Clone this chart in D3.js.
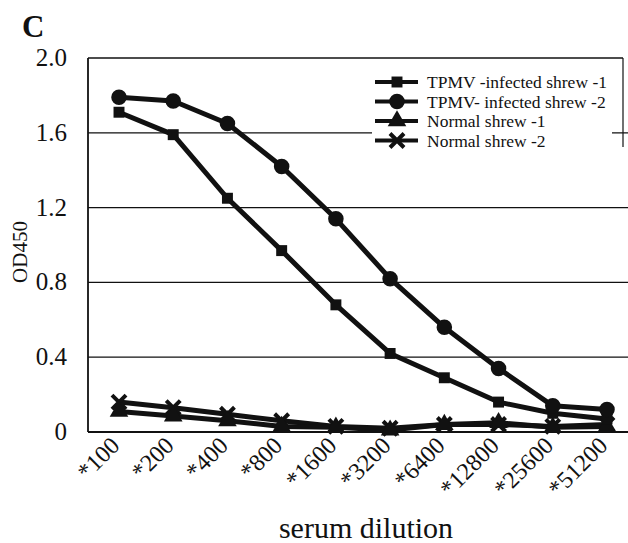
<!DOCTYPE html>
<html><head><meta charset="utf-8">
<script src="https://cdn.jsdelivr.net/npm/d3@7/dist/d3.min.js"></script>
<style>body{margin:0;background:#fff}svg{display:block}</style>
</head><body>
<script>
const categories = ["*100","*200","*400","*800","*1600","*3200","*6400","*12800","*25600","*51200"];
const tpmv1 = [1.71,1.59,1.25,0.97,0.68,0.42,0.29,0.16,0.10,0.07];
const tpmv2 = [1.79,1.77,1.65,1.42,1.14,0.82,0.56,0.34,0.14,0.12];
const normal1 = [0.11,0.085,0.06,0.03,0.025,0.01,0.04,0.05,0.025,0.03];
const normal2 = [0.16,0.13,0.095,0.06,0.03,0.02,0.04,0.04,0.03,0.04];
const seriesNames = ["TPMV -infected shrew -1","TPMV- infected shrew -2","Normal shrew -1","Normal shrew -2"];
const yTicks = [0,0.4,0.8,1.2,1.6,2.0];
const yTickLabels = ["0","0.4","0.8","1.2","1.6","2.0"];

const W=628,H=543;
const ink="#111";
const font="'Liberation Serif','Times New Roman',serif";
const svg=d3.select("body").append("svg").attr("width",W).attr("height",H);

const x=d3.scalePoint().domain(categories).range([119,607]);
const y=d3.scaleLinear().domain([0,2]).range([432,58]);
const left=88,right=628;

// gridlines
svg.append("g").selectAll("line").data(yTicks.filter(v=>v>0&&v<2)).join("line")
  .attr("x1",left).attr("x2",right).attr("y1",d=>y(d)).attr("y2",d=>y(d))
  .attr("stroke",ink).attr("stroke-width",1.3);

// legend background (covers gridlines)
svg.append("rect").attr("x",372).attr("y",y(2)).attr("width",240).attr("height",94).attr("fill","#fff");
svg.append("line").attr("x1",623).attr("x2",623).attr("y1",y(2)).attr("y2",147).attr("stroke",ink).attr("stroke-width",1.2);

// frame
svg.append("line").attr("x1",left).attr("x2",623).attr("y1",y(2)).attr("y2",y(2)).attr("stroke",ink).attr("stroke-width",1.5);
svg.append("line").attr("x1",left).attr("x2",left).attr("y1",y(2)).attr("y2",y(0)).attr("stroke",ink).attr("stroke-width",1.8);
svg.append("line").attr("x1",left).attr("x2",right).attr("y1",y(0)).attr("y2",y(0)).attr("stroke",ink).attr("stroke-width",2);

// y tick labels
svg.append("g").selectAll("text").data(yTicks).join("text")
  .attr("x",67).attr("y",d=>y(d)+8).attr("text-anchor","end")
  .attr("font-family",font).attr("font-size",25).attr("fill",ink)
  .text((d,i)=>yTickLabels[i]);

// x tick labels
svg.append("g").selectAll("text").data(categories).join("text")
  .attr("transform",d=>`translate(${x(d)+2},${447}) rotate(-45)`)
  .attr("text-anchor","end").attr("font-family",font).attr("font-size",24).attr("fill",ink)
  .text(d=>d);

// titles
svg.append("text").attr("x",22).attr("y",37).attr("font-family",font).attr("font-weight","bold")
  .attr("font-size",31).attr("fill",ink).text("C");
svg.append("text").attr("transform","translate(27,252) rotate(-90)").attr("text-anchor","middle")
  .attr("font-family",font).attr("font-size",21).attr("fill",ink).text("OD450");
svg.append("text").attr("x",366).attr("y",538).attr("text-anchor","middle")
  .attr("font-family",font).attr("font-size",30).attr("fill",ink).text("serum dilution");

// series
const allSeries=[tpmv1,tpmv2,normal1,normal2];
const line=d3.line().x((d,i)=>x(categories[i])).y(d=>y(d));
const symbols=[
  {type:d3.symbolSquare,size:120,stroke:false},
  {type:d3.symbolCircle,size:190,stroke:false},
  {type:d3.symbolTriangle,size:150,stroke:false},
  {type:d3.symbolX,size:130,stroke:true}
];
function drawMarker(g,k,cx,cy){
  const s=symbols[k];
  const p=g.append("path").attr("transform",`translate(${cx},${cy})`)
    .attr("d",d3.symbol().type(s.type).size(s.size)());
  if(s.stroke) p.attr("fill","none").attr("stroke",ink).attr("stroke-width",4);
  else p.attr("fill",ink);
}
[3,2,0,1].forEach(k=>{
  const data=allSeries[k];
  svg.append("path").datum(data).attr("d",line).attr("fill","none")
    .attr("stroke",ink).attr("stroke-width",5).attr("stroke-linejoin","round");
  const g=svg.append("g");
  data.forEach((v,i)=>drawMarker(g,k,x(categories[i]),y(v)));
});

// legend
const lg=svg.append("g");
seriesNames.forEach((name,i)=>{
  const cy=82+i*19.5;
  lg.append("line").attr("x1",375).attr("x2",418).attr("y1",cy).attr("y2",cy)
    .attr("stroke",ink).attr("stroke-width",4);
  drawMarker(lg,i,397,cy);
  lg.append("text").attr("x",427).attr("y",cy+6).attr("font-family",font).attr("font-size",17.5)
    .attr("fill",ink).text(name);
});
</script>
</body></html>
